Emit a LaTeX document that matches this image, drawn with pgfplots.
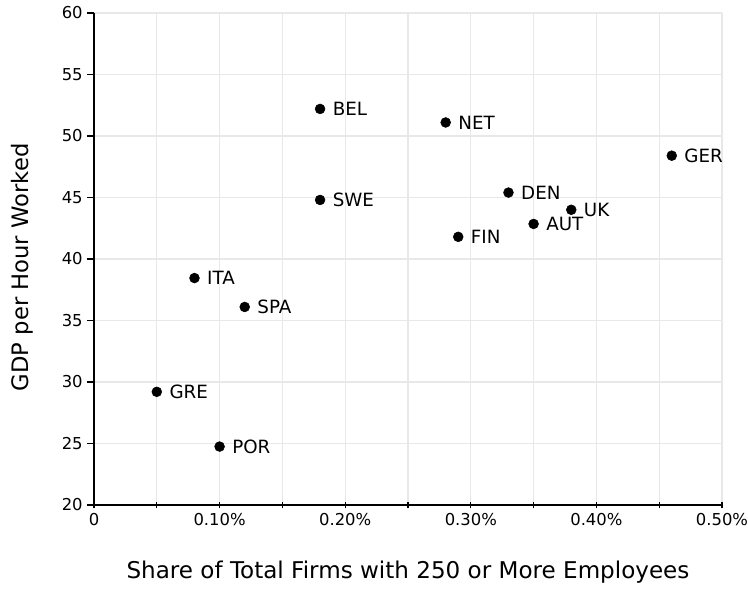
\documentclass[border=0pt]{standalone}
\usepackage{fontspec}
\setmainfont{DejaVu Sans}
\usepackage{pgfplots}
\pgfplotsset{compat=1.18}
\usepackage{pgfplotstable}
\pgfplotstableread{
x y lab
0.18 52.2 BEL
0.28 51.1 NET
0.46 48.4 GER
0.18 44.8 SWE
0.33 45.4 DEN
0.38 44.0 UK
0.35 42.85 AUT
0.29 41.8 FIN
0.08 38.45 ITA
0.12 36.1 SPA
0.05 29.2 GRE
0.10 24.75 POR
}\datatable
\begin{document}
\begin{tikzpicture}
\begin{axis}[
  name=ax,
  scale only axis, width=471pt, height=369pt,
  xmin=0, xmax=0.5, ymin=20, ymax=60,
  xtick={0,0.05,0.1,0.15,0.2,0.25,0.3,0.35,0.4,0.45,0.5},
  xticklabels={0,,0.10\%,,0.20\%,,0.30\%,,0.40\%,,0.50\%},
  ytick={20,25,30,35,40,45,50,55,60},
  /pgf/number format/assume math mode=true,
  grid=major,
  grid style={color=black!9, line width=1pt},
  axis x line*=bottom, axis y line*=left,
  axis line style={black, line width=0.9pt, -},
  xtick align=center, ytick align=outside,
  major tick length=5pt,
  tick style={black, line width=0.9pt},
  tick label style={font=\fontsize{12.3}{14}\selectfont},
  xlabel={Share of Total Firms with 250 or More Employees},
  ylabel={GDP per Hour Worked},
  xlabel style={at={(axis description cs:0.5,0)}, anchor=center, yshift=-50pt, font=\fontsize{17.3}{20}\selectfont},
  ylabel style={at={(axis description cs:-0.1146,0.483)}, anchor=center, font=\fontsize{17}{20}\selectfont},
]
\addplot[only marks, mark=*, mark size=3.7pt, black,
  nodes near coords, point meta=explicit symbolic,
  nodes near coords style={anchor=west, xshift=6pt, font=\fontsize{13.7}{16}\selectfont, text=black}]
  table[x=x, y=y, meta=lab] {\datatable};
\end{axis}
\pgfresetboundingbox
\path ([xshift=-70.5pt, yshift=-63pt]ax.south west) rectangle ([xshift=19.5pt, yshift=9.75pt]ax.north east);
\end{tikzpicture}
\end{document}
